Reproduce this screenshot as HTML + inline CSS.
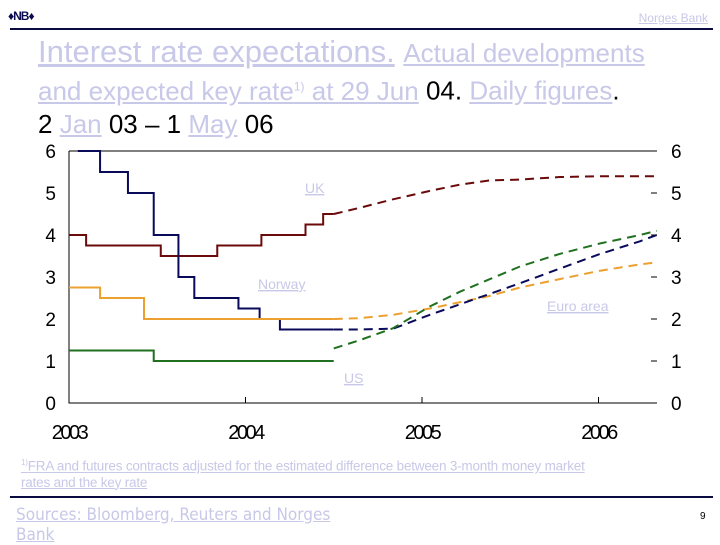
<!DOCTYPE html>
<html><head><meta charset="utf-8">
<style>
body{margin:0;width:720px;height:540px;background:#fff;overflow:hidden;position:relative;font-family:"Liberation Sans",sans-serif}
.t{position:absolute;white-space:nowrap}
.lav{color:#c8c8e8;text-decoration:underline}
.dk{color:#000}
</style></head><body>
<div class="t" style="left:8px;top:9px;font-size:12px;font-weight:bold;color:#0a0a50;letter-spacing:-1px">♦NB♦</div>
<div class="t lav" style="right:12px;top:11px;font-size:12px">Norges Bank</div>
<div style="position:absolute;left:10px;top:28px;width:703px;height:2px;background:#0a0a40"></div>
<div class="t" style="left:38px;top:33px;font-size:31px;line-height:38px"><span class="lav">Interest rate expectations.</span> <span class="lav" style="font-size:26px">Actual developments</span></div>
<div class="t" style="left:38px;top:70px;font-size:26px;line-height:33px"><span class="lav">and expected key rate<sup style="font-size:12px">1)</sup> at 29 Jun</span> <span class="dk">04.</span> <span class="lav">Daily figures</span><span class="dk">.</span><br><span class="dk">2 </span><span class="lav">Jan</span><span class="dk"> 03 – 1 </span><span class="lav">May</span><span class="dk"> 06</span></div>

<svg id="chart" width="720" height="540" style="position:absolute;left:0;top:0" font-family="Liberation Sans, sans-serif"></svg>

<div class="t lav" style="left:21px;top:455px;font-size:13.5px;line-height:16px;letter-spacing:-0.2px"><sup style="font-size:8px">1)</sup>FRA and futures contracts adjusted for the estimated difference between 3-month money market<br>rates and the key rate</div>
<div style="position:absolute;left:10px;top:496px;width:703px;height:2px;background:#0a0a40"></div>
<div class="t lav" style="left:16px;top:505px;font-size:17px;line-height:20px;font-family:'DejaVu Sans Condensed','Liberation Sans',sans-serif">Sources: Bloomberg, Reuters and Norges<br>Bank</div>
<div class="t" style="left:700px;top:511px;font-size:10px">9</div>

<script>
const yTicks=[0,1,2,3,4,5,6];
const xYears=["2003","2004","2005","2006"];
// actual step series: [t (years since Jan 2003), value]
const norwayActual=[[0.05,6],[0.176,5.5],[0.334,5.0],[0.48,4.0],[0.62,3.0],[0.71,2.5],[0.96,2.25],[1.08,2.0],[1.195,1.75],[1.5,1.75]];
const ukActual=[[0,4.0],[0.097,3.75],[0.52,3.5],[0.84,3.75],[1.09,4.0],[1.34,4.25],[1.44,4.5],[1.5,4.5]];
const euroActual=[[0,2.75],[0.176,2.5],[0.425,2.0],[1.5,2.0]];
const usActual=[[0,1.25],[0.48,1.0],[1.5,1.0]];
// expected (dashed) series
const fcT=[1.5,1.65,1.836,2.045,2.215,2.385,2.555,2.78,3.01,3.235,3.33];
const norwayExp=[1.75,1.75,1.77,2.1,2.35,2.6,2.85,3.2,3.55,3.85,4.0];
const ukExp=[4.5,4.65,4.85,5.05,5.2,5.3,5.32,5.38,5.4,5.4,5.4];
const euroExp=[2.0,2.02,2.1,2.25,2.4,2.55,2.75,2.95,3.15,3.3,3.35];
const usExp=[1.3,1.5,1.78,2.3,2.65,2.95,3.25,3.55,3.8,4.0,4.1];

const L=69,R=657,T=151,B=403;
const X=t=>L+t*176.5;
const Y=v=>B-v*(B-T)/6;
const svg=document.getElementById('chart');
const NS='http://www.w3.org/2000/svg';
function mk(tag,a){const e=document.createElementNS(NS,tag);for(const k in a)e.setAttribute(k,a[k]);svg.appendChild(e);return e;}

let e=mk('path',{d:`M${L},${T}H${R}M${L},${T}V${B}H${R}`,stroke:'#000',fill:'none','stroke-width':1});



yTicks.forEach(v=>{
  let a=mk('text',{x:56,y:Y(v)+7,'font-size':19,'text-anchor':'end'});a.textContent=v;
  
  
  let b=mk('text',{x:671,y:Y(v)+7,'font-size':19});b.textContent=v;
  
  
  if(v>0&&v<6){let m=mk('line',{x1:651,x2:657,y1:Y(v),y2:Y(v),stroke:'#000'});
  
  }
});
xYears.forEach((s,i)=>{
  let a=mk('text',{x:X(i),y:439,'font-size':20,'text-anchor':'middle','letter-spacing':'-2.5'});a.textContent=s;
  
  
  if(i>0){let m=mk('line',{x1:X(i),x2:X(i),y1:B,y2:B-6,stroke:'#000'});
  
  }
});
function step(arr,col,name){let d=`M${X(arr[0][0])},${Y(arr[0][1])}`;
  for(let i=1;i<arr.length;i++){d+=`H${X(arr[i][0])}V${Y(arr[i][1])}`;}
  let p=mk('path',{d,stroke:col,fill:'none','stroke-width':2});
  
  }
function dash(vals,col,name){let d=fcT.map((t,i)=>(i?'L':'M')+X(t)+','+Y(vals[i])).join('');
  let p=mk('path',{d,stroke:col,fill:'none','stroke-width':2,'stroke-dasharray':'9,6'});
  
  }
step(ukActual,'#6b0a0a','uk-actual');
step(norwayActual,'#0a0a5a','norway-actual');
step(euroActual,'#eba030','euro-actual');
step(usActual,'#207020','us-actual');
dash(ukExp,'#6b0a0a','uk-expected');
dash(euroExp,'#eba030','euro-expected');
dash(norwayExp,'#0a0a5a','norway-expected');
dash(usExp,'#207020','us-expected');
[['UK',305,193,'label-uk'],['Norway',258,289,'label-norway'],['Euro area',547,311,'label-euro'],['US',344,383,'label-us']].forEach(a=>{
  let t=mk('text',{x:a[1],y:a[2],'font-size':14,fill:'#c8c8e8','text-decoration':'underline'});t.textContent=a[0];
  
  
});
</script>
</body></html>
